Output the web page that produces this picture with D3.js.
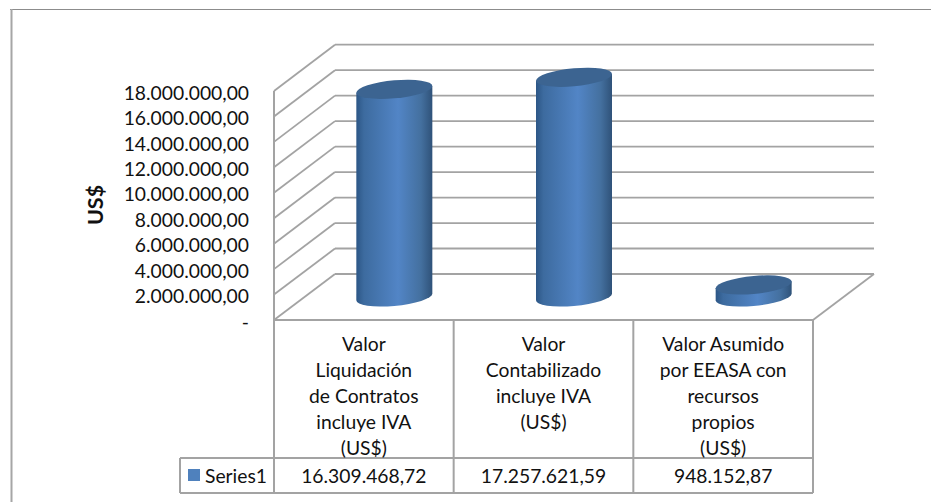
<!DOCTYPE html>
<html>
<head>
<meta charset="utf-8">
<script src="https://cdn.jsdelivr.net/npm/d3@7"></script>
<style>
  html, body { margin: 0; padding: 0; background: #fff; }
  svg { display: block; }
  text { font-family: Lato, "Open Sans", sans-serif; fill: #111; }
</style>
</head>
<body>
<div id="chart"></div>
<script>
// Data
const categories = ['liquidacion', 'contabilizado', 'asumido'];
const categoryLines = [
    ['Valor', 'Liquidación', 'de Contratos', 'incluye IVA', '(US$)'],
    ['Valor', 'Contabilizado', 'incluye IVA', '(US$)'],
    ['Valor Asumido', 'por EEASA con', 'recursos', 'propios', '(US$)']
];
const seriesName = 'Series1';
const seriesValues = [16309468.72, 17257621.59, 948152.87];
const tickValues = [0, 2e6, 4e6, 6e6, 8e6, 10e6, 12e6, 14e6, 16e6, 18e6];
const axisTitle = 'US$';

const width = 931, height = 502;
const gridColor = '#a3a3a3';
const fontSize = '19.3px';

const svg = d3.select('#chart').append('svg')
    .attr('width', width)
    .attr('height', height);

const locale = d3.formatLocale({ decimal: ',', thousands: '.', grouping: [3], currency: ['', ''] });
const fmt = locale.format(',.2f');

// Front plane, back plane and the plane the cylinders stand in
const yFront = d3.scaleLinear().domain([0, 18e6]).range([320, 91]);
const yBack = d3.scaleLinear().domain([0, 18e6]).range([274, 44.7]);
const yMid = d3.scaleLinear().domain([0, 18e6]).range([297, 67.85]);
const x = d3.scaleBand().domain(categories).range([274, 813]);
const depthX = 61;

// Outer frame, only top and left show
svg.append('line').attr('x1', 10).attr('x2', width).attr('y1', 9.5).attr('y2', 9.5)
    .attr('stroke', '#8c8c8c').attr('stroke-width', 1);
svg.append('line').attr('x1', 11.5).attr('x2', 11.5).attr('y1', 9).attr('y2', height)
    .attr('stroke', '#a6a6a6').attr('stroke-width', 2);

// Walls
const grid = svg.append('g').attr('fill', 'none').attr('stroke', gridColor).attr('stroke-width', 1.8);

grid.selectAll('.back').data(tickValues).join('line')
    .attr('x1', x.range()[0] + depthX).attr('x2', x.range()[1] + depthX)
    .attr('y1', d => yBack(d)).attr('y2', d => yBack(d));

grid.selectAll('.side').data(tickValues).join('line')
    .attr('x1', x.range()[0]).attr('x2', x.range()[0] + depthX)
    .attr('y1', d => yFront(d)).attr('y2', d => yBack(d));

// front edge of the side wall
grid.append('line')
    .attr('x1', x.range()[0]).attr('x2', x.range()[0])
    .attr('y1', yFront(0)).attr('y2', yFront(18e6))
    .attr('stroke-width', 2);

// floor edge on the right
grid.append('line')
    .attr('x1', x.range()[1]).attr('x2', x.range()[1] + depthX)
    .attr('y1', yFront(0)).attr('y2', yBack(0));

// Y axis
const axisY = svg.append('g')
    .attr('transform', 'translate(249,2)')
    .call(d3.axisLeft(yFront).tickValues(tickValues).tickSize(0).tickPadding(0)
        .tickFormat(d => d === 0 ? '-' : fmt(d)));
axisY.select('.domain').remove();
axisY.selectAll('text').style('font-family', 'Lato').style('font-size', fontSize).attr('fill', '#111');

svg.append('text')
    .attr('transform', 'translate(95,205) rotate(-90)')
    .attr('text-anchor', 'middle')
    .attr('dominant-baseline', 'central')
    .style('font-size', '21.5px')
    .style('font-weight', 700)
    .text(axisTitle);

// Cylinders
const defs = svg.append('defs');
const grad = defs.append('linearGradient').attr('id', 'cyl');
[[0, '#2c5686'], [0.1, '#3d6b9f'], [0.55, '#5285c6'], [0.85, '#44709f'], [1, '#2f5279']]
    .forEach(s => grad.append('stop').attr('offset', s[0]).attr('stop-color', s[1]));

const rx = 38, ry = 9;
const bars = svg.selectAll('.bar').data(seriesValues).join('g')
    .attr('class', 'bar')
    .attr('transform', (d, i) => `translate(${x(categories[i]) + x.bandwidth() / 2 + depthX / 2},${yMid(0)}) skewY(-5)`);

bars.append('path')
    .attr('fill', 'url(#cyl)')
    .attr('d', d => {
        const h = yMid(0) - yMid(d);
        return `M${-rx},0V${-h}H${rx}V0A${rx},${ry} 0 0 1 ${-rx},0Z`;
    });

bars.append('ellipse')
    .attr('cx', 0)
    .attr('cy', d => yMid(d) - yMid(0))
    .attr('rx', rx).attr('ry', ry)
    .attr('fill', '#3c6491');

// Data table
const table = svg.append('g');
const tableTop = yFront(0), rowTop = 458, tableBottom = 493, legendLeft = 180;

table.append('g').attr('stroke', gridColor).attr('stroke-width', 2)
    .selectAll('line')
    .data(x.domain().map(c => x(c)).concat(x.range()[1]))
    .join('line')
    .attr('x1', d => d).attr('x2', d => d)
    .attr('y1', tableTop).attr('y2', tableBottom);

const rules = [
    [x.range()[0], x.range()[1], tableTop],
    [legendLeft, x.range()[1], rowTop],
    [legendLeft, x.range()[1], tableBottom]
];
table.append('g').attr('stroke', gridColor).attr('stroke-width', 2)
    .selectAll('line').data(rules).join('line')
    .attr('x1', d => d[0]).attr('x2', d => d[1])
    .attr('y1', d => d[2]).attr('y2', d => d[2]);

table.append('line')
    .attr('x1', legendLeft).attr('x2', legendLeft)
    .attr('y1', rowTop).attr('y2', tableBottom)
    .attr('stroke', gridColor).attr('stroke-width', 2);

categories.forEach((c, i) => {
    const cx = x(c) + x.bandwidth() / 2;
    table.append('g').selectAll('text').data(categoryLines[i]).join('text')
        .attr('x', cx)
        .attr('y', (d, j) => 343 + j * 26)
        .attr('text-anchor', 'middle')
        .attr('dominant-baseline', 'central')
        .style('font-size', fontSize)
        .text(d => d);
    table.append('text')
        .attr('x', cx)
        .attr('y', 475.5)
        .attr('text-anchor', 'middle')
        .attr('dominant-baseline', 'central')
        .style('font-size', fontSize)
        .text(fmt(seriesValues[i]));
});

// Legend key
table.append('rect').attr('x', 188).attr('y', 469).attr('width', 12).attr('height', 12).attr('fill', '#4f81bd');
table.append('text')
    .attr('x', 205).attr('y', 475.5)
    .attr('dominant-baseline', 'central')
    .style('font-size', fontSize)
    .text(seriesName);
</script>
</body>
</html>
